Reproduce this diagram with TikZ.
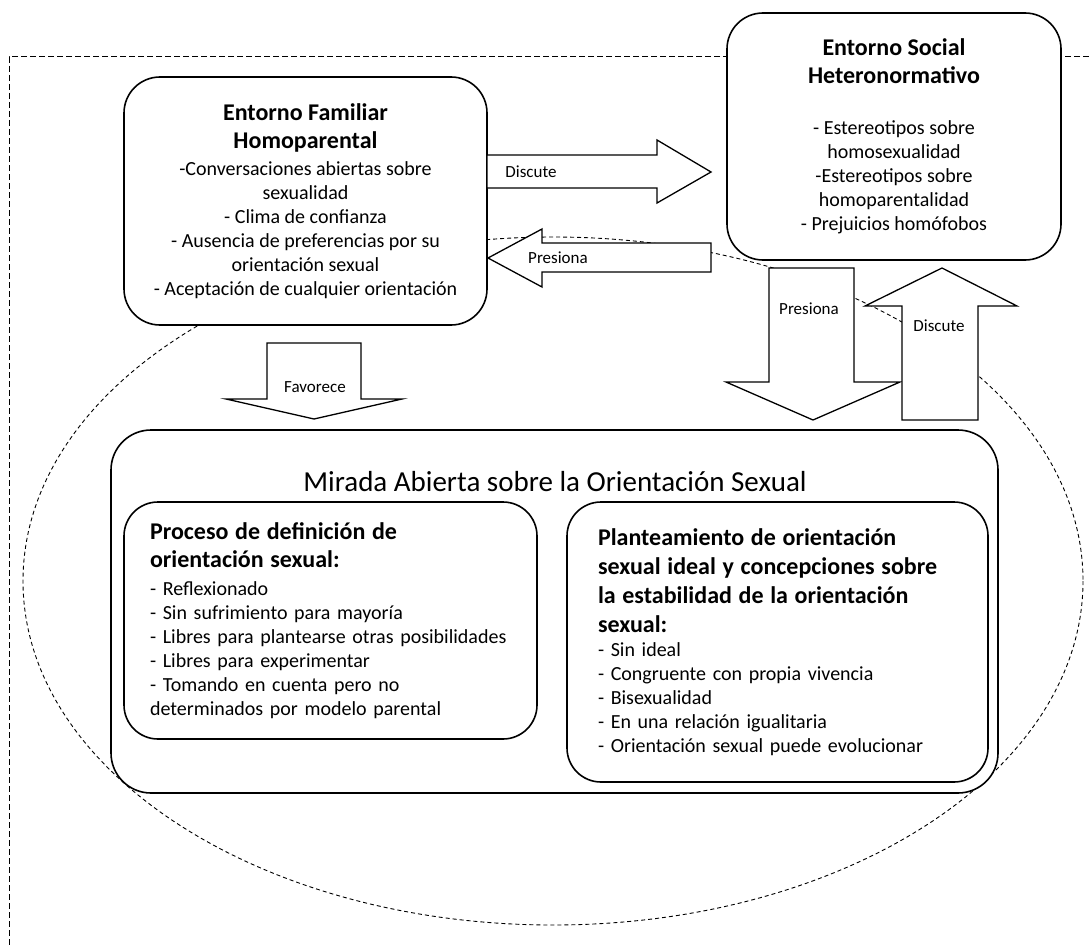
\documentclass[tikz,border=0pt]{standalone}
\usepackage{fontspec}
\setmainfont{Carlito}
\usepackage{tikz}
\newcommand{\hdr}[1]{{\fontsize{24}{29}\selectfont\bfseries #1}}

\begin{document}
\begin{tikzpicture}[x=1pt, y=-1pt,
    caja/.style={draw, line width=1.6pt, fill=white, rounded corners=36pt, inner sep=0pt, align=center, font=\fontsize{20}{24}\selectfont},
    subcaja/.style={caja, rounded corners=34pt, align=left, inner ysep=0pt},
    flecha/.style={draw, line width=1.3pt, fill=white},
    etiqueta/.style={font=\fontsize{17}{20}\selectfont, inner sep=1pt},
    borde/.style={draw, line width=1pt, dash pattern=on 6pt off 3pt},
    ovalo/.style={draw, line width=0.9pt, dash pattern=on 4pt off 3pt}]
                \useasboundingbox (0,0) rectangle (1089,947);
                \draw[borde] (1089,57) -- (9,57) -- (9,947);
                \draw[ovalo] (553,581) ellipse [x radius=530, y radius=344];
                \node[caja, minimum width=363pt, minimum height=248pt] (familia) at (305.5,201) {\hdr{Entorno Familiar}\\[4pt] \hdr{Homoparental}\\[3pt] -Conversaciones abiertas sobre\\ sexualidad\\ - Clima de confianza\\ - Ausencia de preferencias por su\\ orientación sexual\\ - Aceptación de cualquier orientación};
                \node[caja, minimum width=334pt, minimum height=247pt] (social) at (894,136.5) {\hdr{Entorno Social}\\[4pt] \hdr{Heteronormativo}\\[27pt] - Estereotipos sobre\\ homosexualidad\\ -Estereotipos sobre\\ homoparentalidad\\ - Prejuicios homófobos};
                \node[caja, rounded corners=40pt, minimum width=887pt, minimum height=363pt] (mirada) at (554.5,611.5) {};
                \node[font=\fontsize{29}{33}\selectfont] (miradaT) at (555,482) {Mirada Abierta sobre la Orientación Sexual};
                \node[subcaja, inner xsep=26pt, text width=361pt, minimum height=237pt] (proceso) at (330.5,620.5) {\hdr{Proceso de definición de}\\[4pt] \hdr{orientación sexual:}\\[4pt] - Reflexionado\\ - Sin sufrimiento para mayoría\\ - Libres para plantearse otras posibilidades\\ - Libres para experimentar\\ - Tomando en cuenta pero no\\ determinados por modelo parental};
                \node[subcaja, inner xsep=31pt, text width=359pt, minimum height=280pt] (planteamiento) at (777.5,642) {\hdr{Planteamiento de orientación}\\[5pt] \hdr{sexual ideal y concepciones sobre}\\[5pt] \hdr{la estabilidad de la orientación}\\[5pt] \hdr{sexual:}\\ - Sin ideal\\ - Congruente con propia vivencia\\ - Bisexualidad\\ - En una relación igualitaria\\ - Orientación sexual puede evolucionar};
                \draw[flecha] (487,155) -- (657,155) -- (657,140) -- (711,172) -- (657,203) -- (657,188) -- (487,188) -- cycle;
                \draw[flecha] (711,243) -- (542,243) -- (542,229) -- (488,258) -- (542,287) -- (542,272) -- (711,272) -- cycle;
                \draw[flecha] (267,343) -- (361,343) -- (361,399) -- (402,399) -- (314,419) -- (226,399) -- (267,399) -- cycle;
                \draw[flecha] (769,268) -- (854,268) -- (854,382) -- (900,382) -- (813,420) -- (726,382) -- (769,382) -- cycle;
                \draw[flecha] (902,420) -- (978,420) -- (978,306) -- (1017,306) -- (942,268) -- (865,306) -- (902,306) -- cycle;
                \node[etiqueta] (discuteA) at (531,172) {Discute};
                \node[etiqueta] (presionaA) at (558,258) {Presiona};
                \node[etiqueta] (favorece) at (315,387) {Favorece};
                \node[etiqueta] (presionaB) at (809,309) {Presiona};
                \node[etiqueta] (discuteB) at (939,326) {Discute};
\end{tikzpicture}
\end{document}
